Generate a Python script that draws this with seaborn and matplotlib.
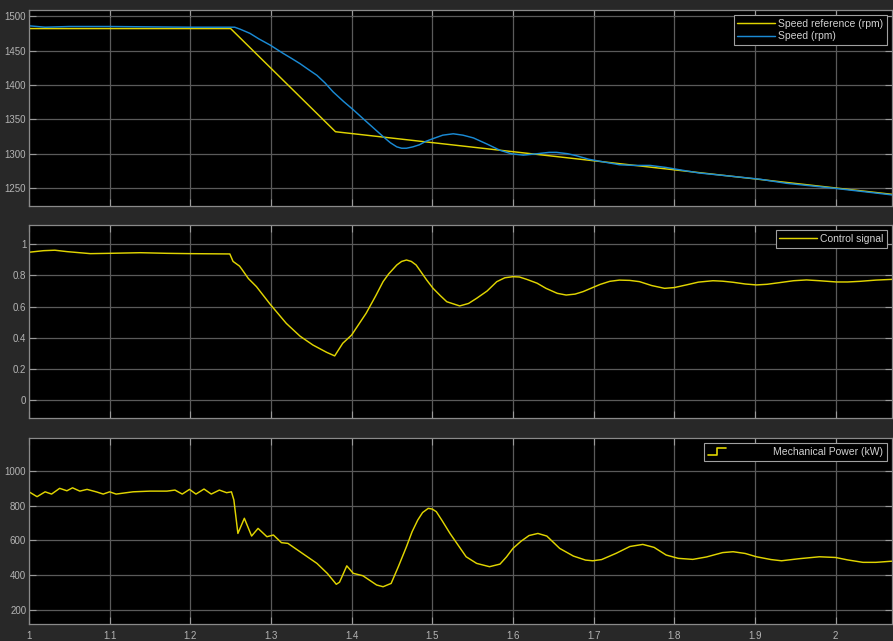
import numpy as np
import pandas as pd
import seaborn as sns
import matplotlib
matplotlib.use("Agg")
import matplotlib.pyplot as plt
from matplotlib.legend_handler import HandlerBase
from matplotlib.lines import Line2D
from matplotlib.ticker import FuncFormatter

# ---------------- data ----------------
t_ref = [1.0, 1.25, 1.38, 2.07]
speed_ref = [1482, 1482, 1332, 1241]

t_speed = [1.0, 1.02, 1.05, 1.1, 1.2, 1.25, 1.255, 1.262, 1.274, 1.285, 1.299, 1.315,
           1.325, 1.336, 1.347, 1.357, 1.367, 1.377, 1.39, 1.402, 1.418, 1.439, 1.448,
           1.456, 1.462, 1.468, 1.476, 1.484, 1.492, 1.501, 1.513, 1.526, 1.538, 1.551,
           1.568, 1.584, 1.598, 1.613, 1.63, 1.645, 1.654, 1.668, 1.679, 1.694, 1.708,
           1.732, 1.750, 1.770, 1.790, 1.810, 1.831, 1.873, 1.906, 1.939, 1.997, 2.071]
speed = [1486, 1484, 1485, 1485, 1484, 1484, 1484, 1481, 1475, 1467, 1458, 1446,
         1439, 1431, 1422, 1414, 1403, 1390, 1376, 1364, 1347, 1325, 1316,
         1310, 1308, 1308, 1310, 1313, 1318, 1322, 1327, 1329, 1327, 1323,
         1314, 1305, 1300, 1298, 1300, 1302, 1302, 1300, 1297, 1292, 1289,
         1284, 1283, 1283, 1280, 1276, 1272, 1267, 1263, 1257, 1250, 1240]

t_ctrl = [1.0, 1.018, 1.032, 1.047, 1.076, 1.1, 1.138, 1.171, 1.2, 1.249, 1.253, 1.261,
          1.264, 1.272, 1.282, 1.299, 1.319, 1.336, 1.352, 1.369, 1.379, 1.389, 1.4,
          1.418, 1.43, 1.439, 1.446, 1.456, 1.462, 1.468, 1.474, 1.48, 1.493, 1.501,
          1.51, 1.518, 1.534, 1.545, 1.555, 1.568, 1.58, 1.59, 1.6, 1.608, 1.617,
          1.63, 1.641, 1.655, 1.666, 1.677, 1.687, 1.708, 1.72, 1.732, 1.745, 1.757,
          1.772, 1.788, 1.80, 1.815, 1.83, 1.848, 1.86, 1.873, 1.888, 1.902, 1.915,
          1.931, 1.948, 1.964, 1.98, 2.001, 2.015, 2.03, 2.05, 2.071]
ctrl = [0.949, 0.959, 0.962, 0.953, 0.940, 0.942, 0.946, 0.942, 0.940, 0.938, 0.89, 0.86,
        0.839, 0.78, 0.728, 0.615, 0.492, 0.41, 0.353, 0.306, 0.283, 0.364, 0.417,
        0.557, 0.67, 0.760, 0.81, 0.867, 0.89, 0.899, 0.89, 0.867, 0.771, 0.717,
        0.67, 0.631, 0.604, 0.62, 0.653, 0.70, 0.760, 0.785, 0.792, 0.79, 0.775,
        0.75, 0.717, 0.685, 0.674, 0.68, 0.696, 0.742, 0.762, 0.770, 0.768, 0.760,
        0.735, 0.717, 0.722, 0.739, 0.757, 0.766, 0.763, 0.756, 0.745, 0.739, 0.743,
        0.754, 0.766, 0.771, 0.766, 0.758, 0.758, 0.762, 0.770, 0.775]

t_pow = [1.0, 1.01, 1.02, 1.028, 1.038, 1.047, 1.054, 1.063, 1.072, 1.084, 1.092, 1.1,
         1.108, 1.129, 1.15, 1.171, 1.181, 1.19, 1.199, 1.207, 1.217, 1.226, 1.236,
         1.245, 1.251, 1.254, 1.257, 1.259, 1.267, 1.276, 1.284, 1.295, 1.303, 1.313,
         1.321, 1.336, 1.357, 1.37, 1.381, 1.385, 1.388, 1.394, 1.402, 1.414, 1.431,
         1.439, 1.449, 1.458, 1.468, 1.475, 1.482, 1.488, 1.495, 1.5, 1.505, 1.512,
         1.522, 1.542, 1.555, 1.571, 1.584, 1.592, 1.600, 1.61, 1.62, 1.631, 1.642,
         1.658, 1.675, 1.69, 1.699, 1.71, 1.728, 1.745, 1.761, 1.775, 1.79, 1.805,
         1.823, 1.84, 1.86, 1.873, 1.888, 1.902, 1.92, 1.933, 1.955, 1.98, 2.0,
         2.015, 2.034, 2.05, 2.071]
power = [879, 851, 879, 866, 899, 885, 902, 883, 893, 878, 866, 879,
         866, 879, 883, 883, 889, 866, 893, 866, 895, 866, 889,
         874, 879, 832, 717, 640, 727, 625, 669, 621, 631, 587,
         583, 535, 468, 410, 348, 360, 391, 454, 411, 397, 344,
         334, 353, 450, 564, 650, 717, 760, 784, 780, 765, 715,
         640, 506, 468, 449, 464, 505, 554, 595, 628, 640, 625,
         554, 510, 487, 483, 490, 526, 565, 577, 560, 516, 497,
         491, 505, 530, 535, 525, 506, 490, 483, 495, 506, 502,
         488, 474, 474, 481]

x_ticks = [1.0, 1.1, 1.2, 1.3, 1.4, 1.5, 1.6, 1.7, 1.8, 1.9, 2.0]
y1_ticks = [1250, 1300, 1350, 1400, 1450, 1500]
y2_ticks = [0, 0.2, 0.4, 0.6, 0.8, 1]
y3_ticks = [200, 400, 600, 800, 1000]

# ---------------- style ----------------
sns.set_style("dark")
plt.rcParams["font.family"] = ["Liberation Sans", "DejaVu Sans"]

BG = "#282828"
YEL = "#e0d400"
BLU = "#1a8ad4"
GRID = "#5a5a5a"
TXT = "#b4b4b4"
EDGE = "#8a8a8a"
LW = 1.05

fig = plt.figure(figsize=(8.93, 6.41), dpi=100, facecolor=BG)
W, H = 893.0, 641.0
left = 29 / W
width = (892 - 29) / W
ax1 = fig.add_axes([left, 1 - 206 / H, width, 196 / H])
ax2 = fig.add_axes([left, 1 - 418 / H, width, 193 / H])
ax3 = fig.add_axes([left, 1 - 624 / H, width, 186 / H])

df_ref = pd.DataFrame({"t": t_ref, "v": speed_ref})
df_spd = pd.DataFrame({"t": t_speed, "v": speed})
df_ctl = pd.DataFrame({"t": t_ctrl, "v": ctrl})
df_pow = pd.DataFrame({"t": t_pow, "v": power})

sns.lineplot(data=df_ref, x="t", y="v", ax=ax1, color=YEL, lw=LW,
             estimator=None, sort=False, label="Speed reference (rpm)")
sns.lineplot(data=df_spd, x="t", y="v", ax=ax1, color=BLU, lw=LW,
             estimator=None, sort=False, label="Speed (rpm)")
sns.lineplot(data=df_ctl, x="t", y="v", ax=ax2, color=YEL, lw=LW,
             estimator=None, sort=False, label="Control signal")
sns.lineplot(data=df_pow, x="t", y="v", ax=ax3, color=YEL, lw=LW,
             estimator=None, sort=False, label="Mechanical Power (kW)")

ylims = [(1224, 1509), (-0.116, 1.124), (120, 1188)]
yticks = [y1_ticks, y2_ticks, y3_ticks]
fmt = FuncFormatter(lambda v, p: "%g" % v)
for ax, yl, yt in zip([ax1, ax2, ax3], ylims, yticks):
    ax.set_facecolor("black")
    ax.set_xlim(1.0, 2.07)
    ax.set_ylim(*yl)
    ax.set_xticks(x_ticks)
    ax.set_yticks(yt)
    ax.xaxis.set_major_formatter(fmt)
    ax.yaxis.set_major_formatter(fmt)
    ax.grid(True, color=GRID, lw=0.9)
    ax.set_xlabel("")
    ax.set_ylabel("")
    for s in ax.spines.values():
        s.set_visible(True)
        s.set_color(EDGE)
        s.set_linewidth(0.9)
    ax.tick_params(axis="both", direction="in", length=5, width=0.8, color="#9a9a9a",
                   labelcolor=TXT, labelsize=7, pad=2, top=True, right=True,
                   bottom=True, left=True)
    ax.tick_params(axis="x", pad=5)

ax1.tick_params(labelbottom=False)
ax2.tick_params(labelbottom=False)


class StepHandler(HandlerBase):
    def create_artists(self, legend, orig_handle, xdescent, ydescent, width, height,
                       fontsize, trans):
        x0, y0 = -xdescent, -ydescent
        xs = [x0, x0 + width * 0.5, x0 + width * 0.5, x0 + width]
        ys = [y0, y0, y0 + height, y0 + height]
        return [Line2D(xs, ys, color=orig_handle.get_color(), lw=1.2, transform=trans)]


leg_kw = dict(loc="upper right", facecolor="black", edgecolor="#a0a0a0",
              labelcolor="#d2d2d2", fontsize=7.5, framealpha=1, fancybox=False,
              borderpad=0.35, labelspacing=0.25, borderaxespad=0.5)
l1 = ax1.legend(handlelength=3.6, handletextpad=0.3, **leg_kw)
l2 = ax2.legend(handlelength=3.6, handletextpad=0.3, **leg_kw)
h3, lab3 = ax3.get_legend_handles_labels()
l3 = ax3.legend(h3, lab3, handlelength=1.8, handletextpad=4.5,
                handler_map={Line2D: StepHandler()}, **leg_kw)
for lg in (l1, l2, l3):
    lg.get_frame().set_linewidth(0.8)

fig.savefig("out.png", dpi=100, facecolor=BG)
